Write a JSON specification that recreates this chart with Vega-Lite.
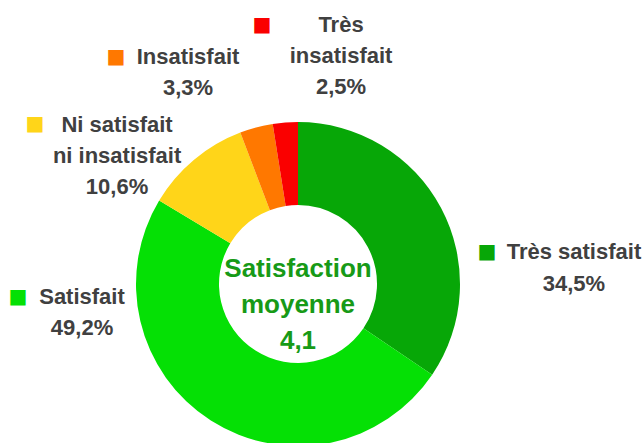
{
  "$schema": "https://vega.github.io/schema/vega-lite/v6.json",
  "width": 596,
  "height": 568,
  "autosize": {"type": "none"},
  "padding": {"left": 0, "top": 0, "right": 47, "bottom": 0},
  "background": "white",
  "config": {"view": {"stroke": null}, "text": {"font": "Liberation Sans"}},
  "datasets": {
    "sat": [
      {"category": "Très satisfait", "pct": 34.5, "order": 1, "label": "Très satisfait\n34,5%"},
      {"category": "Satisfait", "pct": 49.2, "order": 2, "label": "Satisfait\n49,2%"},
      {"category": "Ni satisfait ni insatisfait", "pct": 10.6, "order": 3, "label": "Ni satisfait\nni insatisfait\n10,6%"},
      {"category": "Insatisfait", "pct": 3.3, "order": 4, "label": "Insatisfait\n3,3%"},
      {"category": "Très insatisfait", "pct": 2.5, "order": 5, "label": "Très\ninsatisfait\n2,5%"}
    ],
    "center": [{"t": "Satisfaction\nmoyenne\n4,1"}]
  },
  "data": {"name": "sat"},
  "layer": [
    {
      "mark": {"type": "arc", "outerRadius": 162, "innerRadius": 79},
      "encoding": {
        "theta": {"field": "pct", "type": "quantitative", "stack": true},
        "order": {"field": "order", "type": "quantitative"},
        "color": {"field": "category", "type": "nominal", "legend": null,
          "scale": {"domain": ["Très satisfait", "Satisfait", "Ni satisfait ni insatisfait", "Insatisfait", "Très insatisfait"],
                    "range": ["#07a707", "#05e005", "#ffd519", "#ff7800", "#fa0000"]}}
      }
    },
    {
      "mark": {"type": "text", "radius": 200, "dx": 58.7, "dy": -69.4, "align": "center", "baseline": "top", "lineBreak": "\n", "lineHeight": 31, "fontWeight": "bold", "fontSize": 22, "fill": "#404040"},
      "encoding": {
        "theta": {"field": "pct", "type": "quantitative", "stack": true},
        "order": {"field": "order", "type": "quantitative"},
        "detail": {"field": "category"},
        "text": {"condition": {"test": "datum.category === 'Très insatisfait'", "field": "label"}, "value": ""}
      }
    },
    {
      "mark": {"type": "text", "radius": 200, "dx": -58.5, "dy": -43.6, "align": "center", "baseline": "top", "lineBreak": "\n", "lineHeight": 31, "fontWeight": "bold", "fontSize": 22, "fill": "#404040"},
      "encoding": {
        "theta": {"field": "pct", "type": "quantitative", "stack": true},
        "order": {"field": "order", "type": "quantitative"},
        "detail": {"field": "category"},
        "text": {"condition": {"test": "datum.category === 'Insatisfait'", "field": "label"}, "value": ""}
      }
    },
    {
      "mark": {"type": "text", "radius": 200, "dx": -52.6, "dy": -15.4, "align": "center", "baseline": "top", "lineBreak": "\n", "lineHeight": 31, "fontWeight": "bold", "fontSize": 22, "fill": "#404040"},
      "encoding": {
        "theta": {"field": "pct", "type": "quantitative", "stack": true},
        "order": {"field": "order", "type": "quantitative"},
        "detail": {"field": "category"},
        "text": {"condition": {"test": "datum.category === 'Ni satisfait ni insatisfait'", "field": "label"}, "value": ""}
      }
    },
    {
      "mark": {"type": "text", "radius": 200, "dx": 99.3, "dy": 52, "align": "center", "baseline": "top", "lineBreak": "\n", "lineHeight": 32, "fontWeight": "bold", "fontSize": 22, "fill": "#404040"},
      "encoding": {
        "theta": {"field": "pct", "type": "quantitative", "stack": true},
        "order": {"field": "order", "type": "quantitative"},
        "detail": {"field": "category"},
        "text": {"condition": {"test": "datum.category === 'Très satisfait'", "field": "label"}, "value": ""}
      }
    },
    {
      "mark": {"type": "text", "radius": 200, "dx": -108.4, "dy": -165.4, "align": "center", "baseline": "top", "lineBreak": "\n", "lineHeight": 31, "fontWeight": "bold", "fontSize": 22, "fill": "#404040"},
      "encoding": {
        "theta": {"field": "pct", "type": "quantitative", "stack": true},
        "order": {"field": "order", "type": "quantitative"},
        "detail": {"field": "category"},
        "text": {"condition": {"test": "datum.category === 'Satisfait'", "field": "label"}, "value": ""}
      }
    },
    {
      "mark": {"type": "text", "radius": 200, "dx": -20.3, "dy": -59.6, "align": "center", "baseline": "middle", "fontSize": 20, "font": "DejaVu Sans"},
      "encoding": {
        "theta": {"field": "pct", "type": "quantitative", "stack": true},
        "order": {"field": "order", "type": "quantitative"},
        "color": {"field": "category", "type": "nominal", "legend": null},
        "text": {"condition": {"test": "datum.category === 'Très insatisfait'", "value": "■"}, "value": ""}
      }
    },
    {
      "mark": {"type": "text", "radius": 200, "dx": -130.5, "dy": -33.8, "align": "center", "baseline": "middle", "fontSize": 20, "font": "DejaVu Sans"},
      "encoding": {
        "theta": {"field": "pct", "type": "quantitative", "stack": true},
        "order": {"field": "order", "type": "quantitative"},
        "color": {"field": "category", "type": "nominal", "legend": null},
        "text": {"condition": {"test": "datum.category === 'Insatisfait'", "value": "■"}, "value": ""}
      }
    },
    {
      "mark": {"type": "text", "radius": 200, "dx": -134.6, "dy": -6.6, "align": "center", "baseline": "middle", "fontSize": 20, "font": "DejaVu Sans"},
      "encoding": {
        "theta": {"field": "pct", "type": "quantitative", "stack": true},
        "order": {"field": "order", "type": "quantitative"},
        "color": {"field": "category", "type": "nominal", "legend": null},
        "text": {"condition": {"test": "datum.category === 'Ni satisfait ni insatisfait'", "value": "■"}, "value": ""}
      }
    },
    {
      "mark": {"type": "text", "radius": 200, "dx": 12.3, "dy": 61.8, "align": "center", "baseline": "middle", "fontSize": 20, "font": "DejaVu Sans"},
      "encoding": {
        "theta": {"field": "pct", "type": "quantitative", "stack": true},
        "order": {"field": "order", "type": "quantitative"},
        "color": {"field": "category", "type": "nominal", "legend": null},
        "text": {"condition": {"test": "datum.category === 'Très satisfait'", "value": "■"}, "value": ""}
      }
    },
    {
      "mark": {"type": "text", "radius": 200, "dx": -172.4, "dy": -155.6, "align": "center", "baseline": "middle", "fontSize": 20, "font": "DejaVu Sans"},
      "encoding": {
        "theta": {"field": "pct", "type": "quantitative", "stack": true},
        "order": {"field": "order", "type": "quantitative"},
        "color": {"field": "category", "type": "nominal", "legend": null},
        "text": {"condition": {"test": "datum.category === 'Satisfait'", "value": "■"}, "value": ""}
      }
    },
    {
      "data": {"name": "center"},
      "mark": {"type": "text", "align": "center", "baseline": "top", "lineBreak": "\n", "lineHeight": 36, "dy": -28.2, "fontWeight": "bold", "fontSize": 26, "fill": "#179a17"},
      "encoding": {"text": {"field": "t"}}
    }
  ]
}
